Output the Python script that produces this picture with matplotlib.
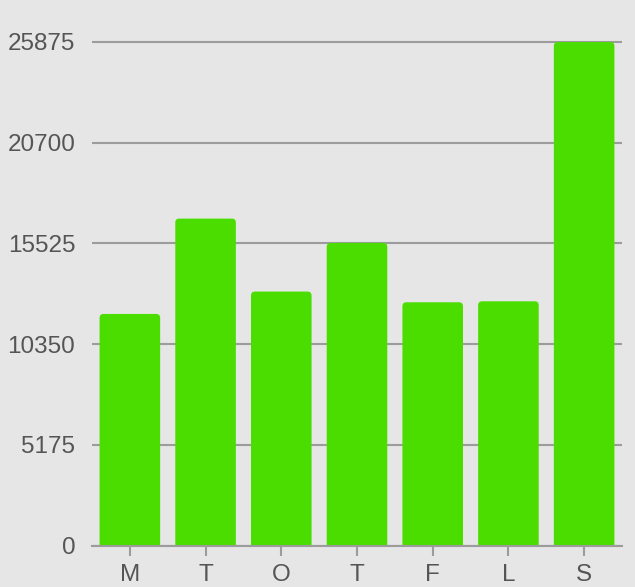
import matplotlib
matplotlib.use("Agg")
import matplotlib.pyplot as plt
from matplotlib.patches import FancyBboxPatch

days = ["M", "T", "O", "T", "F", "L", "S"]
steps = [11900, 16800, 13050, 15550, 12500, 12550, 25875]
yticks = [0, 5175, 10350, 15525, 20700, 25875]

bg = "#e6e6e6"
green = "#4cdd00"
grid_col = "#9c9c9c"
text_col = "#555555"

plt.rcParams["font.family"] = ["Liberation Sans", "DejaVu Sans"]

fig = plt.figure(figsize=(6.35, 5.87), dpi=100, facecolor=bg)
ax = fig.add_axes([92 / 635, 1 - 545.5 / 587, 530 / 635, 525.5 / 587])
ax.set_facecolor(bg)

ymax = 25875 * 525.5 / 503.5
ax.set_xlim(-0.5, len(days) - 0.5)
ax.set_ylim(0, ymax)

# rounded tops, bottoms pushed below the axis so only the top corners show
w = 0.8
px_x = len(days) / 530
px_y = ymax / 525.5
for i, v in enumerate(steps):
    p = FancyBboxPatch((i - w / 2, -400), w, v + 400,
                       boxstyle="round,pad=0,rounding_size=%f" % (4 * px_x),
                       mutation_aspect=px_y / px_x,
                       facecolor=green, edgecolor="none", zorder=2)
    ax.add_patch(p)

ax.set_yticks(yticks)
ax.set_yticklabels([str(t) for t in yticks])
ax.set_xticks(range(len(days)))
ax.set_xticklabels(days)

ax.grid(axis="y", color=grid_col, linewidth=1.5, zorder=0)
ax.set_axisbelow(True)
for s in ["top", "right", "left"]:
    ax.spines[s].set_visible(False)
ax.spines["bottom"].set_color(grid_col)
ax.spines["bottom"].set_linewidth(1.5)
ax.spines["bottom"].set_zorder(3)

ax.tick_params(axis="y", length=0, pad=12, labelsize=17.5, labelcolor=text_col)
ax.tick_params(axis="x", length=7, width=1.5, color=grid_col, pad=6,
               labelsize=17.5, labelcolor=text_col)

fig.savefig("out.png", dpi=100, facecolor=bg)
